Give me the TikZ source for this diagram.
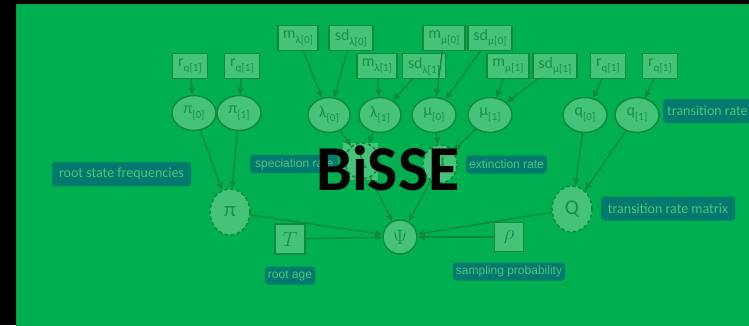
\documentclass[tikz,border=0pt]{standalone}
\usepackage{fontspec}
\setmainfont{Carlito}
\newfontfamily\arialf{Liberation Sans}
\usetikzlibrary{shapes.geometric,arrows.meta}
\definecolor{bggreen}{HTML}{00B050}
\definecolor{bgedge}{HTML}{0A9A40}
\definecolor{edgec}{HTML}{0E8A3C}
\definecolor{nodefill}{HTML}{45C479}
\definecolor{nodetext}{HTML}{1A9045}
\definecolor{labfill}{HTML}{007A6C}
\definecolor{labtext}{HTML}{4CC380}
\newcommand\sbx[1]{\raisebox{-0.28em}{\fontsize{11}{11}\selectfont #1}}
\tikzset{
  nd/.style={draw=edgec, fill=nodefill, line width=1.5pt, text=nodetext,
    font=\fontsize{16}{16}\selectfont, inner sep=0pt},
  boxn/.style={nd, rectangle, minimum height=25pt},
  elln/.style={nd, ellipse, minimum width=44pt, minimum height=35pt},
  detn/.style={nd, ellipse, dashed, dash pattern=on 3.5pt off 2.5pt, minimum width=40pt,
    minimum height=46pt, font=\fontsize{21}{21}\selectfont},
  mathn/.style={nd, font=\fontsize{20}{20}\selectfont},
  labc/.style={fill=labfill, rounded corners=3pt, text=labtext, inner xsep=4pt,
    minimum height=24pt, font=\fontsize{14}{14}\selectfont},
  laba/.style={fill=labfill, rounded corners=3pt, text=labtext, inner xsep=3pt,
    minimum height=18pt, font=\arialf\fontsize{12}{12}\selectfont},
  arr/.style={-{Triangle[length=7pt,width=6pt]}, draw=edgec, line width=1.4pt}
}
\begin{document}
\begin{tikzpicture}[x=1pt,y=-1pt]
\useasboundingbox (0,0) rectangle (749,325);
\fill[black] (0,0) rectangle (749,325);
\fill[bggreen, draw=bgedge, line width=1pt] (16.5,4.5) rectangle (752,328);

% top rows of boxes
\node[boxn, minimum width=35pt] (rq0) at (190,66) {r\sbx{q[1]}};
\node[boxn, minimum width=35pt] (rq1) at (242,66) {r\sbx{q[1]}};
\node[boxn, minimum width=40pt] (mla0) at (298,38) {m\sbx{λ[0]}};
\node[boxn, minimum width=44pt] (sdla0) at (351,38) {sd\sbx{λ[0]}};
\node[boxn, minimum width=40pt] (mla1) at (377,66) {m\sbx{λ[1]}};
\node[boxn, minimum width=43pt] (sdla1) at (424,66) {sd\sbx{λ[1]}};
\node[boxn, minimum width=42pt] (mmu0) at (444,38) {m\sbx{μ[0]}};
\node[boxn, minimum width=44pt] (sdmu0) at (490,38) {sd\sbx{μ[0]}};
\node[boxn, minimum width=42pt] (mmu1) at (508,66) {m\sbx{μ[1]}};
\node[boxn, minimum width=44pt] (sdmu1) at (555,66) {sd\sbx{μ[1]}};
\node[boxn, minimum width=35pt] (rq2) at (608,66) {r\sbx{q[1]}};
\node[boxn, minimum width=35pt] (rq3) at (660,66) {r\sbx{q[1]}};

% ellipses
\node[elln] (pi0) at (194,113) {π\sbx{[0]}};
\node[elln] (pi1) at (239,113) {π\sbx{[1]}};
\node[elln, minimum width=42pt] (la0) at (329,115) {λ\sbx{[0]}};
\node[elln, minimum width=42pt] (la1) at (380,115) {λ\sbx{[1]}};
\node[elln] (mu0) at (434,115) {μ\sbx{[0]}};
\node[elln] (mu1) at (490,115) {μ\sbx{[1]}};
\node[elln] (q0) at (585,115) {q\sbx{[0]}};
\node[elln] (q1) at (637,115) {q\sbx{[1]}};

% deterministic nodes
\fill[nodefill] (343,143) rectangle (378,180);
\node[detn, minimum width=34pt, minimum height=36pt] (la) at (362,161) {λ};
\node[detn, minimum width=34pt, minimum height=38pt] (mu) at (440,164) {μ};
\node[detn] (pi) at (230,212) {π};
\node[detn] (Q) at (572,209) {Q};

% Psi, T, rho
\node[mathn, circle, minimum size=34pt] (psi) at (400,237) {$\Psi$};
\node[mathn, rectangle, minimum size=30pt] (T) at (290,239) {$T$};
\node[mathn, rectangle, minimum size=29pt] (rho) at (509,237) {$\rho$};

% labels
\node[labc, minimum width=139pt] (lrsf) at (121.5,174) {root state frequencies};
\node[laba, anchor=west, minimum width=88pt] (lsr) at (250,164) {speciation rate};
\node[laba, anchor=west] (ler) at (466,164.5) {extinction rate};
\node[laba] (lra) at (290,275.5) {root age};
\node[laba] (lsp) at (509,271.5) {sampling probability};
\node[labc, anchor=west] (ltr) at (663,111) {transition rate};
\node[labc, minimum width=134pt] (ltrm) at (668,208.5) {transition rate matrix};

% edges
\draw[arr] (rq0) -- (pi0);
\draw[arr] (rq1) -- (pi1);
\draw[arr] (pi0) -- (pi);
\draw[arr] (pi1) -- (pi);
\draw[arr] (mla0) -- (la0);
\draw[arr] (sdla0) -- (la0);
\draw[arr] (mla1) -- (la1);
\draw[arr] (sdla1) -- (la1);
\draw[arr] (mmu0) -- (mu0);
\draw[arr] (sdmu0) -- (mu0);
\draw[arr] (mmu1) -- (mu1);
\draw[arr] (sdmu1) -- (mu1);
\draw[arr] (rq2) -- (q0);
\draw[arr] (rq3) -- (q1);
\draw[arr] (q0) -- (Q);
\draw[arr] (q1) -- (Q);
\draw[arr] (la0) -- (la);
\draw[arr] (la1) -- (la);
\draw[arr] (mu0) -- (mu);
\draw[arr] (mu1) -- (mu);
\draw[arr] (la) -- (psi);
\draw[arr] (mu) -- (psi);
\draw[arr] (pi) -- (psi);
\draw[arr] (T) -- (psi);
\draw[arr] (rho) -- (psi);
\draw[arr] (Q) -- (psi);

% title
\node[font=\fontsize{64}{64}\bfseries\selectfont, text=black, inner sep=0pt] (title) at (388,168) {BiSSE};
\end{tikzpicture}
\end{document}
